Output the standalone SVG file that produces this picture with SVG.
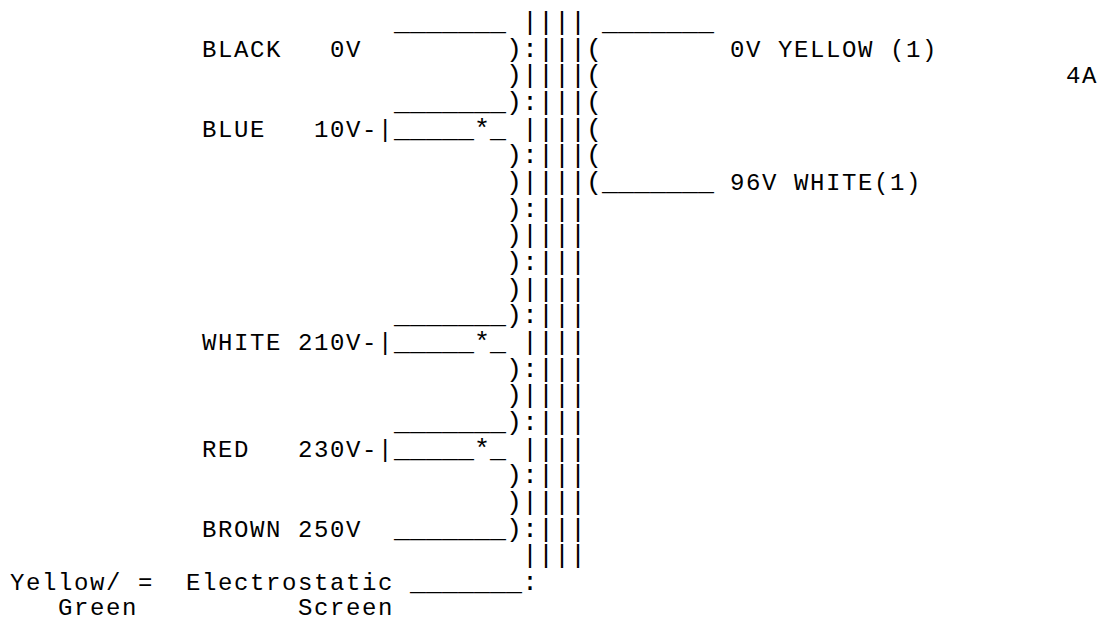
<svg xmlns="http://www.w3.org/2000/svg" width="1101" height="618" viewBox="0 0 1101 618">
<style>
text{font-family:"Courier New","Nimbus Mono PS","Nimbus Mono L",Courier,"Liberation Mono",monospace;font-size:26.667px;fill:#000;white-space:pre}
.l{font-size:24px;letter-spacing:1.6px}
</style>
<rect width="1101" height="618" fill="#fff"/>
<g id="transformer">
<text x="522" y="30">||||</text>
<text x="506" y="56.67">):|||(</text>
<text x="506" y="83.33">)||||(</text>
<text x="506" y="110">):|||(</text>
<text x="522" y="136.67">||||(</text>
<text x="506" y="163.33">):|||(</text>
<text x="506" y="190">)||||(</text>
<text x="506" y="216.67">):|||</text>
<text x="506" y="243.33">)||||</text>
<text x="506" y="270">):|||</text>
<text x="506" y="296.67">)||||</text>
<text x="506" y="323.33">):|||</text>
<text x="522" y="350">||||</text>
<text x="506" y="376.67">):|||</text>
<text x="506" y="403.33">)||||</text>
<text x="506" y="430">):|||</text>
<text x="522" y="456.67">||||</text>
<text x="506" y="483.33">):|||</text>
<text x="506" y="510">)||||</text>
<text x="506" y="536.67">):|||</text>
<text x="522" y="563.33">||||</text>
<text x="522" y="590">:</text>
</g>
<g id="connectors">
<text x="394" y="30">_______</text>
<text x="602" y="30">_______</text>
<text x="394" y="110">_______</text>
<text x="394" y="136.67">_____*_</text>
<text x="602" y="190">_______</text>
<text x="394" y="323.33">_______</text>
<text x="394" y="350">_____*_</text>
<text x="394" y="430">_______</text>
<text x="394" y="456.67">_____*_</text>
<text x="394" y="536.67">_______</text>
<text x="410" y="590">_______</text>
</g>
<g id="tap-black"><text class="l" x="202" y="56.67">BLACK</text><text class="l" x="330" y="56.67">0V</text></g>
<g id="tap-blue"><text class="l" x="202" y="136.67">BLUE</text><text class="l" x="314" y="136.67">10V-|</text></g>
<g id="tap-white"><text class="l" x="202" y="350">WHITE</text><text class="l" x="298" y="350">210V-|</text></g>
<g id="tap-red"><text class="l" x="202" y="456.67">RED</text><text class="l" x="298" y="456.67">230V-|</text></g>
<g id="tap-brown"><text class="l" x="202" y="536.67">BROWN</text><text class="l" x="298" y="536.67">250V</text></g>
<g id="sec-yellow"><text class="l" x="730" y="56.67">0V YELLOW (1)</text></g>
<g id="sec-white"><text class="l" x="730" y="190">96V WHITE(1)</text></g>
<g id="rating"><text class="l" x="1066" y="83.33">4A</text></g>
<g id="screen">
<text class="l" x="10" y="590">Yellow/</text><text class="l" x="138" y="590">=</text><text class="l" x="186" y="590">Electrostatic</text>
<text class="l" x="58" y="615">Green</text><text class="l" x="298" y="615">Screen</text>
</g>
</svg>
